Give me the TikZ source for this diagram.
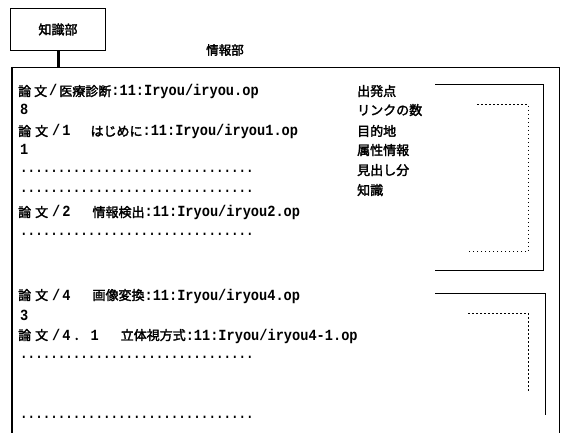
\documentclass[tikz,border=0pt]{standalone}
\usepackage{fontspec}
\setmainfont[FakeStretch=0.88]{Liberation Mono}
\newfontfamily\jp[FakeBold=2.2]{Noto Sans CJK JP}
\newfontfamily\dotf[FakeStretch=0.81]{Liberation Mono}
\newcommand\J[1]{{\fontsize{13}{13}\jp\mdseries #1}}
\newcommand\dotrow{{\dotf ...............................}}
\begin{document}
\begin{tikzpicture}[x=1pt,y=-1pt,
  txt/.style={anchor=base west,inner sep=0pt,font=\fontsize{15.5}{16}\selectfont\bfseries},
  lbl/.style={anchor=base west,inner sep=0pt,font=\fontsize{13}{13}\selectfont},
  solidbr/.style={line width=1pt},
  dotbr/.style={line width=1pt,dash pattern=on 1.5pt off 2.5pt}]
\useasboundingbox (0,0) rectangle (563,433);
\clip (0,0) rectangle (563,433);
\fill[white] (0,0) rectangle (563,433);
% knowledge box
\node[draw,line width=1pt,minimum width=95pt,minimum height=42pt,inner sep=0pt,anchor=north west] (kb) at (10,8) {\J{知識部}};
% main box
\node[draw,line width=1.2pt,minimum width=547pt,minimum height=380pt,inner sep=0pt,anchor=north west] (main) at (12,67) {};
\draw[line width=2pt] (main.north west) -- (main.south west);
\draw[line width=3pt] (kb.south) -- (kb.south |- main.north);
\node[lbl,anchor=center] (info) at (225,50) {\jp\fontsize{12.5}{13}\selectfont 情報部};
% left texts
\node[txt] (l1) at (18,96) {\J{論\hspace{3pt}文}\hspace{2pt}/\hspace{2pt}\J{医療診断}:11:Iryou/iryou.op};
\node[txt] (l2) at (20,115) {8};
\node[txt] (l3) at (18,136) {\J{論\hspace{4pt}文}\hspace{4pt}/\hspace{2pt}1\hspace{20pt}\J{はじめに}:11:Iryou/iryou1.op};
\node[txt] (l4) at (20,155) {1};
\node[txt] (l5) at (20,173) {\dotrow};
\node[txt] (l6) at (20,193) {\dotrow};
\node[txt] (l7) at (18,217) {\J{論\hspace{4pt}文}\hspace{4pt}/\hspace{2pt}2\hspace{22pt}\J{情報検出}:11:Iryou/iryou2.op};
\node[txt] (l8) at (20,236) {\dotrow};
\node[txt] (l9) at (18,300) {\J{論\hspace{4pt}文}\hspace{4pt}/\hspace{2pt}4\hspace{22pt}\J{画像変換}:11:Iryou/iryou4.op};
\node[txt] (l10) at (20,320) {3};
\node[txt] (l11) at (18,340) {\J{論\hspace{4pt}文}\hspace{4pt}/\hspace{2pt}4\hspace{3pt}\J{．}\hspace{4pt}1\hspace{22pt}\J{立体視方式}:11:Iryou/iryou4-1.op};
\node[txt] (l12) at (20,358) {\dotrow};
\node[txt] (l13) at (20,418) {\dotrow};
% right labels
\node[lbl] (r1) at (357,96) {\J{出発点}};
\node[lbl] (r2) at (357,115) {\J{リンクの数}};
\node[lbl] (r3) at (357,136) {\J{目的地}};
\node[lbl] (r4) at (357,155) {\J{属性情報}};
\node[lbl] (r5) at (357,175) {\J{見出し分}};
\node[lbl] (r6) at (357,195) {\J{知識}};
% brackets
\draw[solidbr] (435,85) -- (543,85) -- (543,271) -- (435,271);
\draw[dotbr] (477,105) -- (528,105) -- (528,252) -- (467,252);
\draw[solidbr] (435,293) -- (545,293) -- (545,415);
\draw[dotbr] (468,313) -- (528,313) -- (528,393);
\end{tikzpicture}
\end{document}
